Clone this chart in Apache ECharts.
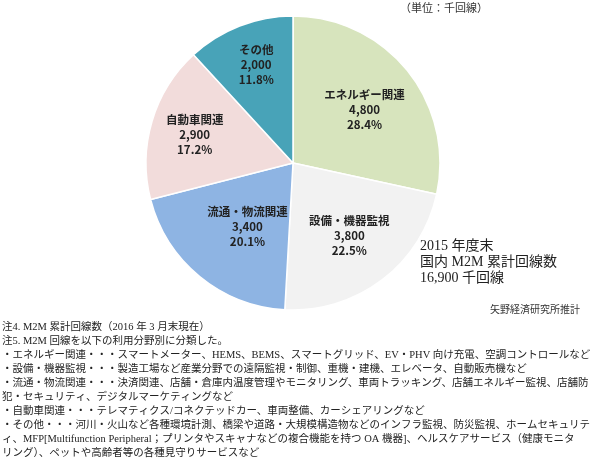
<!DOCTYPE html>
<html><head><meta charset="utf-8">
<script src="https://cdn.jsdelivr.net/npm/echarts@6/dist/echarts.min.js"></script>
<style>html,body{margin:0;padding:0;background:#fff}#c{width:590px;height:468px}</style>
</head><body><div id="c"></div>
<script>
const categories = ['エネルギー関連','設備・機器監視','流通・物流関連','自動車関連','その他'];
const values = [4800, 3800, 3400, 2900, 2000];
const percents = ['28.4%','22.5%','20.1%','17.2%','11.8%'];
const colors = ['#d7e4bd','#f2f2f2','#8eb4e3','#f2dcdb','#48a3b8'];
const labelOffsets = [[12,-5],[10,12],[3,5],[-25,-7],[-9,-27]];
const notes = [
 '注4. M2M 累計回線数（2016 年 3 月末現在）',
 '注5. M2M 回線を以下の利用分野別に分類した。',
 '・エネルギー関連・・・スマートメーター、HEMS、BEMS、スマートグリッド、EV・PHV 向け充電、空調コントロールなど',
 '・設備・機器監視・・・製造工場など産業分野での遠隔監視・制御、重機・建機、エレベータ、自動販売機など',
 '・流通・物流関連・・・決済関連、店舗・倉庫内温度管理やモニタリング、車両トラッキング、店舗エネルギー監視、店舗防',
 '犯・セキュリティ、デジタルマーケティングなど',
 '・自動車関連・・・テレマティクス/コネクテッドカー、車両整備、カーシェアリングなど',
 '・その他・・・河川・火山など各種環境計測、橋梁や道路・大規模構造物などのインフラ監視、防災監視、ホームセキュリテ',
 'ィ、MFP[Multifunction Peripheral；プリンタやスキャナなどの複合機能を持つ OA 機器]、ヘルスケアサービス（健康モニタ',
 'リング）、ペットや高齢者等の各種見守りサービスなど'
];
const serif = '"Liberation Serif","Noto Sans CJK JP",serif';
const chart = echarts.init(document.getElementById('c'));
const g = [
 {type:'text',left:400,top:4,style:{text:'（単位：千回線）',font:'11px '+serif,fill:'#333'}},
 {type:'text',left:420,top:238,style:{text:'2015 年度末\n国内 M2M 累計回線数\n16,900 千回線',font:'14px '+serif,fill:'#222',lineHeight:16}},
 {type:'text',left:490,top:305,style:{text:'矢野経済研究所推計',font:'10px '+serif,fill:'#333'}}
];
notes.forEach((t,i)=>g.push({type:'text',left:2,top:322+i*14,style:{text:t,font:'10.5px '+serif,fill:'#222'}}));
chart.setOption({
 animation:false,
 graphic:g,
 series:[{type:'pie',center:[293,163],radius:147,startAngle:90,clockwise:true,
  itemStyle:{borderColor:'#fff',borderWidth:1.5},
  label:{position:'inside',color:'#222',fontFamily:'"Noto Sans CJK JP",sans-serif',fontSize:11.5,fontWeight:'bold',lineHeight:15,
   formatter:p=>p.name+'\n'+p.value.toLocaleString('en-US')+'\n'+percents[p.dataIndex]},
  labelLine:{show:false},
  data:categories.map((n,i)=>({name:n,value:values[i],itemStyle:{color:colors[i]},label:{offset:labelOffsets[i]}}))}]
});
</script></body></html>
